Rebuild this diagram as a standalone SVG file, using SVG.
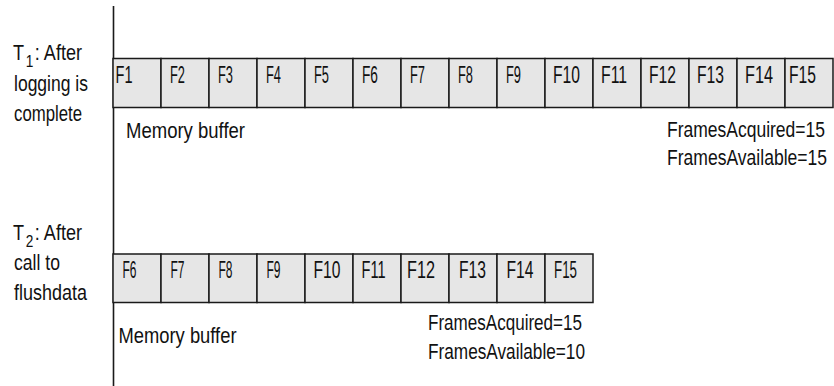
<svg xmlns="http://www.w3.org/2000/svg" width="834" height="386" viewBox="0 0 834 386">
<style>
text{font-family:"Liberation Sans",Arial,sans-serif;fill:#111;}
.cell{fill:#e6e6e6;stroke:#1a1a1a;stroke-width:1.5;}
.fl{font-size:24px;}
.lbl{font-size:22.5px;}
.sub{font-size:17px;}
.note{font-size:22px;}
.axis{stroke:#1a1a1a;stroke-width:1.6;fill:none;}
</style>
<rect width="834" height="386" fill="#fff"/>
<g id="axis">
<line class="axis" x1="113.5" y1="6" x2="113.5" y2="386"/>
</g>
<g id="label-t1">
<text class="lbl" x="13" y="59.5" textLength="69" lengthAdjust="spacingAndGlyphs">T<tspan class="sub" dx="2" dy="7.5">1</tspan><tspan dx="2" dy="-7.5">: After</tspan></text>
<text class="lbl" x="14" y="90.5" textLength="74" lengthAdjust="spacingAndGlyphs">logging is</text>
<text class="lbl" x="14" y="120.5" textLength="68" lengthAdjust="spacingAndGlyphs">complete</text>
</g>
<g id="buffer-t1">
<rect class="cell" x="113" y="58.5" width="48" height="49"/>
<rect class="cell" x="161" y="58.5" width="48" height="49"/>
<rect class="cell" x="209" y="58.5" width="48" height="49"/>
<rect class="cell" x="257" y="58.5" width="48" height="49"/>
<rect class="cell" x="305" y="58.5" width="48" height="49"/>
<rect class="cell" x="353" y="58.5" width="48" height="49"/>
<rect class="cell" x="401" y="58.5" width="48" height="49"/>
<rect class="cell" x="449" y="58.5" width="48" height="49"/>
<rect class="cell" x="497" y="58.5" width="48" height="49"/>
<rect class="cell" x="545" y="58.5" width="48" height="49"/>
<rect class="cell" x="593" y="58.5" width="48" height="49"/>
<rect class="cell" x="641" y="58.5" width="48" height="49"/>
<rect class="cell" x="689" y="58.5" width="48" height="49"/>
<rect class="cell" x="737" y="58.5" width="48" height="49"/>
<rect class="cell" x="785" y="58.5" width="48" height="49"/>
<text class="fl" x="115.5" y="83" textLength="17" lengthAdjust="spacingAndGlyphs">F1</text>
<text class="fl" x="170" y="83" textLength="15" lengthAdjust="spacingAndGlyphs">F2</text>
<text class="fl" x="218" y="83" textLength="15" lengthAdjust="spacingAndGlyphs">F3</text>
<text class="fl" x="266" y="83" textLength="15" lengthAdjust="spacingAndGlyphs">F4</text>
<text class="fl" x="314" y="83" textLength="15" lengthAdjust="spacingAndGlyphs">F5</text>
<text class="fl" x="362" y="83" textLength="16" lengthAdjust="spacingAndGlyphs">F6</text>
<text class="fl" x="410" y="83" textLength="15" lengthAdjust="spacingAndGlyphs">F7</text>
<text class="fl" x="458" y="83" textLength="15" lengthAdjust="spacingAndGlyphs">F8</text>
<text class="fl" x="506" y="83" textLength="15" lengthAdjust="spacingAndGlyphs">F9</text>
<text class="fl" x="553" y="83" textLength="27" lengthAdjust="spacingAndGlyphs">F10</text>
<text class="fl" x="601" y="83" textLength="26" lengthAdjust="spacingAndGlyphs">F11</text>
<text class="fl" x="649" y="83" textLength="27" lengthAdjust="spacingAndGlyphs">F12</text>
<text class="fl" x="697" y="83" textLength="27" lengthAdjust="spacingAndGlyphs">F13</text>
<text class="fl" x="745" y="83" textLength="28" lengthAdjust="spacingAndGlyphs">F14</text>
<text class="fl" x="789" y="83" textLength="27" lengthAdjust="spacingAndGlyphs">F15</text>
<text class="note" x="126" y="138" textLength="119" lengthAdjust="spacingAndGlyphs">Memory buffer</text>
<text class="note" transform="translate(667 136.5) scale(0.795 1)" textLength="198.7" lengthAdjust="spacingAndGlyphs">FramesAcquired=15</text>
<text class="note" transform="translate(667 164.5) scale(0.795 1)" textLength="201.3" lengthAdjust="spacingAndGlyphs">FramesAvailable=15</text>
</g>
<g id="label-t2">
<text class="lbl" x="13" y="239.5" textLength="69" lengthAdjust="spacingAndGlyphs">T<tspan class="sub" dx="2" dy="7.5">2</tspan><tspan dx="2" dy="-7.5">: After</tspan></text>
<text class="lbl" x="14" y="270" textLength="46" lengthAdjust="spacingAndGlyphs">call to</text>
<text class="lbl" x="14" y="299.5" textLength="73" lengthAdjust="spacingAndGlyphs">flushdata</text>
</g>
<g id="buffer-t2">
<rect class="cell" x="113" y="254" width="48" height="48.5"/>
<rect class="cell" x="161" y="254" width="48" height="48.5"/>
<rect class="cell" x="209" y="254" width="48" height="48.5"/>
<rect class="cell" x="257" y="254" width="48" height="48.5"/>
<rect class="cell" x="305" y="254" width="48" height="48.5"/>
<rect class="cell" x="353" y="254" width="48" height="48.5"/>
<rect class="cell" x="401" y="254" width="48" height="48.5"/>
<rect class="cell" x="449" y="254" width="48" height="48.5"/>
<rect class="cell" x="497" y="254" width="48" height="48.5"/>
<rect class="cell" x="545" y="254" width="48" height="48.5"/>
<text class="fl" x="122.5" y="278" textLength="14" lengthAdjust="spacingAndGlyphs">F6</text>
<text class="fl" x="170.5" y="278" textLength="14" lengthAdjust="spacingAndGlyphs">F7</text>
<text class="fl" x="218.5" y="278" textLength="14" lengthAdjust="spacingAndGlyphs">F8</text>
<text class="fl" x="266.5" y="278" textLength="14" lengthAdjust="spacingAndGlyphs">F9</text>
<text class="fl" x="313.5" y="278" textLength="27" lengthAdjust="spacingAndGlyphs">F10</text>
<text class="fl" x="361.5" y="278" textLength="24" lengthAdjust="spacingAndGlyphs">F11</text>
<text class="fl" x="407" y="278" textLength="28" lengthAdjust="spacingAndGlyphs">F12</text>
<text class="fl" x="459" y="278" textLength="27" lengthAdjust="spacingAndGlyphs">F13</text>
<text class="fl" x="506.5" y="278" textLength="27" lengthAdjust="spacingAndGlyphs">F14</text>
<text class="fl" x="554" y="278" textLength="23" lengthAdjust="spacingAndGlyphs">F15</text>
<text class="note" x="118.5" y="343" textLength="118" lengthAdjust="spacingAndGlyphs">Memory buffer</text>
<text class="note" x="428" y="330" textLength="154" lengthAdjust="spacingAndGlyphs">FramesAcquired=15</text>
<text class="note" x="428" y="359" textLength="157" lengthAdjust="spacingAndGlyphs">FramesAvailable=10</text>
</g>
</svg>
